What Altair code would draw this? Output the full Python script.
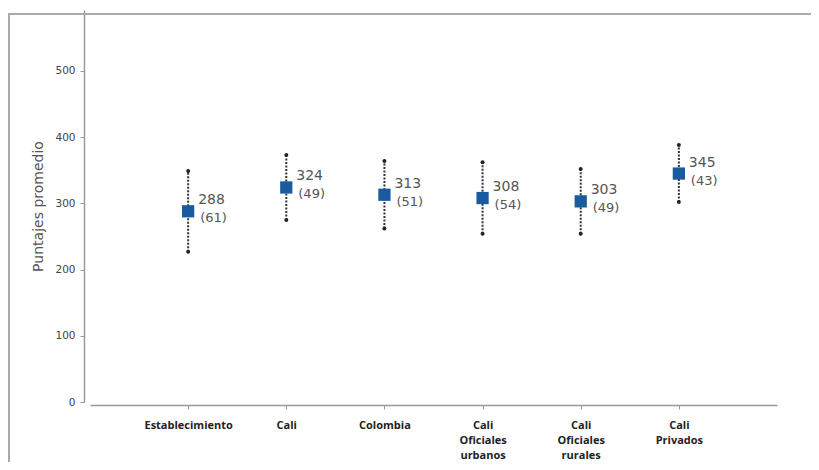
import altair as alt
import pandas as pd

categories = ["Establecimiento", "Cali", "Colombia",
              "Cali|Oficiales|urbanos", "Cali|Oficiales|rurales", "Cali|Privados"]
means = [288, 324, 313, 308, 303, 345]
sds = [61, 49, 51, 54, 49, 43]
y_ticks = [0, 100, 200, 300, 400, 500]

df = pd.DataFrame({"cat": categories, "mean": means, "sd": sds})
df["lo"] = df["mean"] - df["sd"]
df["hi"] = df["mean"] + df["sd"]
df["mean_txt"] = df["mean"].astype(str)
df["sd_txt"] = "(" + df["sd"].astype(str) + ")"

W, H = 687, 392

x = alt.X("cat:N", sort=categories, title=None,
          scale=alt.Scale(type="point", padding=1),
          axis=alt.Axis(labelExpr="split(datum.label, '|')", labelAngle=0,
                        labelFont="Open Sans", labelFontWeight="bold", labelFontSize=11,
                        labelColor="#222", labelPadding=10, labelLineHeight=15,
                        domainColor="#999", domainWidth=1.5, tickColor="#999",
                        tickSize=4, offset=3, grid=False))
yscale = alt.Scale(domain=[0, 592], nice=False)

base = alt.Chart(df)
one = alt.Chart(pd.DataFrame({"a": [0]}))

frame_top = one.mark_rule(stroke="#aaa", strokeWidth=2, clip=False).encode(
    x=alt.value(-82), x2=alt.value(1000), y=alt.value(4))
frame_left = one.mark_rule(stroke="#aaa", strokeWidth=2, clip=False).encode(
    x=alt.value(-81), y=alt.value(4), y2=alt.value(600))

rules = base.mark_rule(color="#333", strokeWidth=2, strokeDash=[2, 1.5]).encode(
    x=x,
    y=alt.Y("lo:Q", scale=yscale, title="Puntajes promedio",
            axis=alt.Axis(values=y_ticks, grid=False, offset=6,
                          labelFont="DejaVu Sans", labelFontSize=10.5, labelColor="#444",
                          labelPadding=5, tickSize=4, tickColor="#999",
                          domainColor="#999", domainWidth=1.5,
                          titleFont="DejaVu Sans", titleFontSize=14,
                          titleFontWeight="normal", titleColor="#555", titlePadding=9)),
    y2="hi:Q",
)
lo_dots = base.mark_point(filled=True, shape="circle", size=16, color="#222", opacity=1).encode(
    x=x, y=alt.Y("lo:Q", scale=yscale))
hi_dots = base.mark_point(filled=True, shape="circle", size=16, color="#222", opacity=1).encode(
    x=x, y=alt.Y("hi:Q", scale=yscale))
squares = base.mark_square(size=150, color="#1a5a9e", opacity=1).encode(
    x=x, y=alt.Y("mean:Q", scale=yscale))
mean_txt = base.mark_text(align="left", dx=10, dy=-11, font="DejaVu Sans",
                          fontSize=14, color="#555").encode(
    x=x, y=alt.Y("mean:Q", scale=yscale), text="mean_txt:N")
sd_txt = base.mark_text(align="left", dx=12, dy=7, font="DejaVu Sans",
                        fontSize=13, color="#555").encode(
    x=x, y=alt.Y("mean:Q", scale=yscale), text="sd_txt:N")

chart = alt.layer(frame_top, frame_left, rules, lo_dots, hi_dots, squares,
                  mean_txt, sd_txt).properties(
    width=W, height=H,
    autosize=alt.AutoSizeParams(type="none"),
    padding={"left": 82, "top": 2, "right": 34, "bottom": 60},
).configure(background="white").configure_view(stroke=None)

chart.save("out.html", embed_options={"renderer": "svg", "actions": False})
